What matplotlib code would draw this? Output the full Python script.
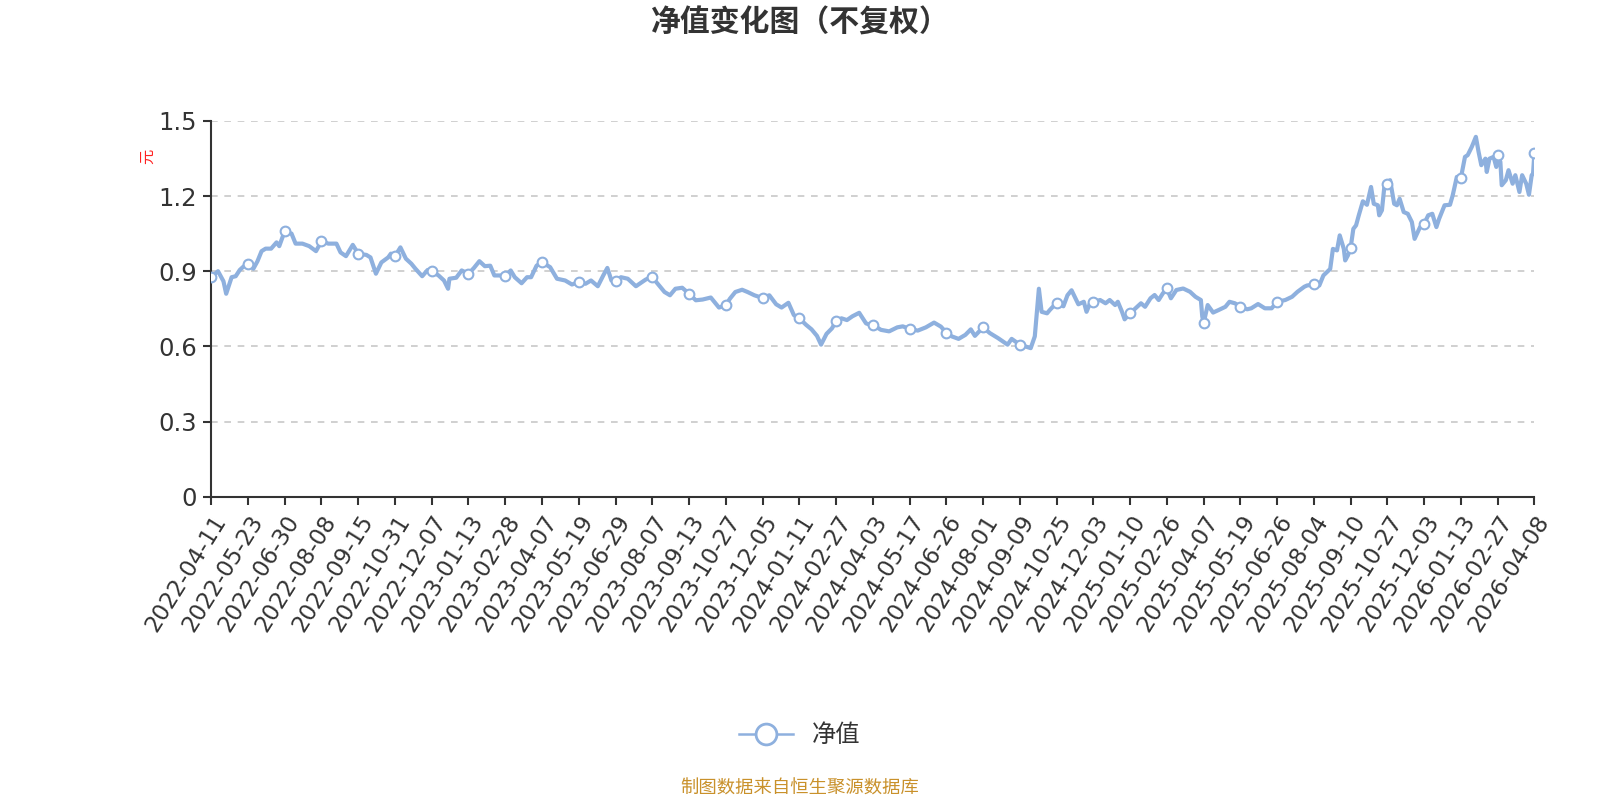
import matplotlib
matplotlib.use("Agg")
import matplotlib.pyplot as plt
from matplotlib.lines import Line2D

plt.rcParams['font.family'] = ['Noto Sans CJK SC', 'DejaVu Sans']

# tick labels on the category axis, one every 27 trading days
tick_labels = ["2022-04-11", "2022-05-23", "2022-06-30", "2022-08-08", "2022-09-15",
               "2022-10-31", "2022-12-07", "2023-01-13", "2023-02-28", "2023-04-07",
               "2023-05-19", "2023-06-29", "2023-08-07", "2023-09-13", "2023-10-27",
               "2023-12-05", "2024-01-11", "2024-02-27", "2024-04-03", "2024-05-17",
               "2024-06-26", "2024-08-01", "2024-09-09", "2024-10-25", "2024-12-03",
               "2025-01-10", "2025-02-26", "2025-04-07", "2025-05-19", "2025-06-26",
               "2025-08-04", "2025-09-10", "2025-10-27", "2025-12-03", "2026-01-13",
               "2026-02-27", "2026-04-08"]
label_step = 27

# trading day index and net value
day_idx = [0, 5, 9, 11, 15, 18, 21, 24, 27, 31, 34, 37, 40, 44, 48, 50, 54, 59, 62, 67,
           72, 77, 81, 86, 92, 95, 99, 104, 108, 114, 117, 121, 125, 130, 132, 135, 139, 143, 147, 150,
           155, 159, 162, 167, 171, 174, 175, 180, 184, 189, 193, 197, 201, 205, 208, 212, 216, 220, 223, 228,
           232, 235, 239, 243, 249, 254, 260, 265, 270, 275, 279, 284, 288, 291, 294, 297, 301, 306, 312, 319,
           322, 324, 329, 333, 337, 341, 346, 351, 356, 361, 367, 373, 378, 381, 385, 390, 394, 399, 405, 410,
           415, 419, 424, 428, 432, 437, 441, 445, 448, 452, 456, 459, 463, 467, 471, 476, 481, 484, 486, 492,
           498, 504, 508, 513, 519, 525, 531, 536, 540, 544, 549, 554, 558, 561, 567, 572, 578, 585, 588, 594,
           598, 602, 605, 608, 610, 614, 616, 621, 626, 629, 632, 637, 641, 643, 646, 648, 653, 657, 660, 664,
           666, 669, 671, 675, 679, 683, 686, 690, 693, 696, 699, 702, 705, 709, 714, 719, 723, 727, 728, 729,
           732, 736, 740, 745, 748, 752, 756, 761, 764, 769, 774, 779, 783, 789, 794, 798, 803, 805, 810, 814,
           817, 822, 824, 827, 829, 832, 833, 835, 837, 839, 841, 843, 846, 849, 852, 854, 857, 858, 860, 862,
           864, 866, 869, 871, 873, 876, 879, 882, 884, 888, 891, 894, 897, 900, 902, 906, 910, 912, 915, 918,
           921, 923, 926, 927, 929, 931, 933, 936, 937, 939, 942, 944, 945, 947, 948, 951, 953, 956, 958, 961,
           963, 966, 968, 970, 971, 972]
nav = [0.876, 0.900, 0.860, 0.810, 0.876, 0.880, 0.905, 0.920, 0.930, 0.910, 0.940, 0.980, 0.990, 0.990, 1.015, 1.000, 1.060, 1.050, 1.010, 1.010,
       1.000, 0.980, 1.020, 1.010, 1.010, 0.975, 0.960, 1.005, 0.970, 0.965, 0.955, 0.890, 0.935, 0.955, 0.970, 0.960, 0.995, 0.950, 0.930, 0.910,
       0.880, 0.905, 0.900, 0.883, 0.863, 0.830, 0.870, 0.874, 0.903, 0.890, 0.913, 0.940, 0.920, 0.922, 0.883, 0.883, 0.880, 0.903, 0.876, 0.852,
       0.876, 0.876, 0.922, 0.936, 0.916, 0.870, 0.863, 0.847, 0.856, 0.850, 0.863, 0.840, 0.883, 0.913, 0.863, 0.860, 0.876, 0.870, 0.840, 0.866,
       0.874, 0.876, 0.843, 0.817, 0.804, 0.830, 0.834, 0.810, 0.784, 0.787, 0.795, 0.755, 0.764, 0.790, 0.817, 0.826, 0.817, 0.804, 0.793, 0.804,
       0.768, 0.755, 0.774, 0.725, 0.712, 0.686, 0.668, 0.642, 0.607, 0.650, 0.672, 0.700, 0.712, 0.705, 0.720, 0.734, 0.692, 0.686, 0.686, 0.666,
       0.660, 0.676, 0.680, 0.670, 0.663, 0.676, 0.695, 0.679, 0.655, 0.640, 0.630, 0.646, 0.668, 0.642, 0.676, 0.653, 0.633, 0.607, 0.630, 0.607,
       0.600, 0.593, 0.640, 0.830, 0.738, 0.732, 0.745, 0.774, 0.760, 0.804, 0.824, 0.768, 0.778, 0.738, 0.778, 0.778, 0.785, 0.772, 0.785, 0.765,
       0.778, 0.739, 0.708, 0.732, 0.752, 0.772, 0.758, 0.792, 0.805, 0.785, 0.811, 0.831, 0.792, 0.825, 0.831, 0.818, 0.798, 0.785, 0.720, 0.692,
       0.765, 0.735, 0.745, 0.758, 0.778, 0.772, 0.758, 0.748, 0.752, 0.769, 0.752, 0.752, 0.778, 0.785, 0.798, 0.818, 0.838, 0.843, 0.847, 0.843,
       0.883, 0.909, 0.989, 0.983, 1.043, 0.989, 0.943, 0.963, 0.993, 1.069, 1.083, 1.123, 1.179, 1.165, 1.236, 1.169, 1.163, 1.123, 1.143, 1.249,
       1.249, 1.263, 1.169, 1.163, 1.189, 1.136, 1.129, 1.096, 1.029, 1.076, 1.089, 1.123, 1.129, 1.076, 1.109, 1.163, 1.165, 1.203, 1.276, 1.272,
       1.356, 1.363, 1.396, 1.409, 1.436, 1.376, 1.323, 1.349, 1.296, 1.349, 1.356, 1.316, 1.363, 1.336, 1.243, 1.263, 1.303, 1.249, 1.283, 1.216,
       1.283, 1.249, 1.205, 1.283, 1.289, 1.372]

line_color = '#8eb0de'
axis_color = '#333333'

fig = plt.figure(figsize=(16, 8), dpi=100)
ax = fig.add_axes([0.132, 0.379, 0.827, 0.470])

marks = [i for i, d in enumerate(day_idx) if d % label_step == 0]
ax.plot(day_idx, nav, color=line_color, lw=3.0, solid_joinstyle='round',
        marker='o', markevery=marks, markersize=7, markerfacecolor='white',
        markeredgecolor=line_color, markeredgewidth=1.5, zorder=3)

tick_pos = [i * label_step for i in range(len(tick_labels))]
ax.set_xlim(tick_pos[0], tick_pos[-1])
ax.set_xticks(tick_pos)
ax.set_xticklabels(tick_labels, rotation=58, ha='right', rotation_mode='anchor',
                   fontsize=16.5, color=axis_color, family='DejaVu Sans')

ax.set_ylim(0, 1.5)
ax.set_yticks([0, 0.3, 0.6, 0.9, 1.2, 1.5])
ax.set_yticklabels(['0', '0.3', '0.6', '0.9', '1.2', '1.5'], fontsize=17.5,
                   color=axis_color, family='DejaVu Sans')
ax.yaxis.grid(True, linestyle=(0, (4, 4)), color='#c8c8c8', lw=1.2)
ax.set_axisbelow(True)

for s in ['top', 'right']:
    ax.spines[s].set_visible(False)
for s in ['left', 'bottom']:
    ax.spines[s].set_color(axis_color)
    ax.spines[s].set_linewidth(1.5)
ax.tick_params(axis='both', length=6, width=1.5, color=axis_color, pad=4)

fig.text(0.092, 0.804, '元', color='#ff2020', fontsize=11, rotation=90, ha='center', va='center')

fig.suptitle('净值变化图（不复权）', fontsize=21.5, fontweight='bold', color='#333333', y=0.972, va='center')

handle = Line2D([], [], color=line_color, lw=1.8, marker='o', markersize=15,
                markerfacecolor='white', markeredgecolor=line_color, markeredgewidth=2)
fig.legend([handle], ['净值'], loc='center', bbox_to_anchor=(0.5, 0.081), frameon=False,
           fontsize=17.5, handlelength=2.2, labelcolor='#333333')

fig.text(0.5, 0.014, '制图数据来自恒生聚源数据库', color='#c9912b', fontsize=13.2, ha='center', va='center')

fig.savefig('out.png', dpi=100)
